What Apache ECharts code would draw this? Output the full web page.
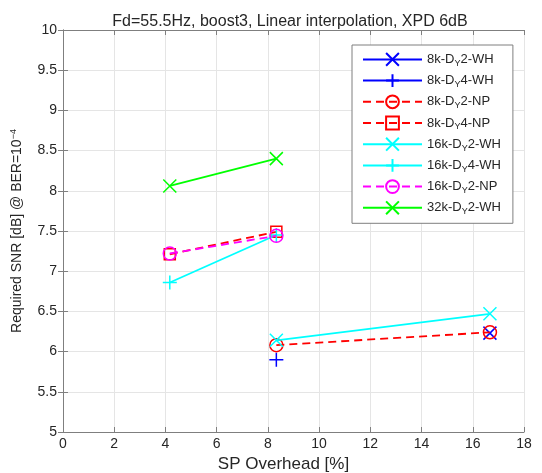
<!DOCTYPE html>
<html>
<head>
<meta charset="utf-8">
<script src="https://cdn.jsdelivr.net/npm/echarts@6/dist/echarts.min.js"></script>
<style>html,body{margin:0;padding:0;background:#fff;}#c{width:542px;height:473px;}</style>
</head>
<body>
<div id="c"></div>
<script>
// ---- data ----
const seriesNames = ['8k-D{sub|Y}2-WH','8k-D{sub|Y}4-WH','8k-D{sub|Y}2-NP','8k-D{sub|Y}4-NP','16k-D{sub|Y}2-WH','16k-D{sub|Y}4-WH','16k-D{sub|Y}2-NP','32k-D{sub|Y}2-WH'];
const x_8kDY2WH = [16.67];        const y_8kDY2WH = [6.23];
const x_8kDY4WH = [8.33];         const y_8kDY4WH = [5.90];
const x_8kDY2NP = [8.33, 16.67];  const y_8kDY2NP = [6.08, 6.24];
const x_8kDY4NP = [4.17, 8.33];   const y_8kDY4NP = [7.21, 7.49];
const x_16kDY2WH = [8.33, 16.67]; const y_16kDY2WH = [6.14, 6.47];
const x_16kDY4WH = [4.17, 8.33];  const y_16kDY4WH = [6.86, 7.45];
const x_16kDY2NP = [4.17, 8.33];  const y_16kDY2NP = [7.22, 7.44];
const x_32kDY2WH = [4.17, 8.33];  const y_32kDY2WH = [8.06, 8.40];
const xTicks = [0,2,4,6,8,10,12,14,16,18];
const yTicks = [5,5.5,6,6.5,7,7.5,8,8.5,9,9.5,10];

// ---- styles ----
const XS = 'path://M0,0L10,10M10,0L0,10';
const PLUS = 'path://M5,0L5,10M0,5L10,5';
const pairs = (xs, ys) => xs.map((x, i) => [x, ys[i]]);
const specs = [
  {x:x_8kDY2WH, y:y_8kDY2WH, c:'#0000ff', sym:XS, dash:false, size:13},
  {x:x_8kDY4WH, y:y_8kDY4WH, c:'#0000ff', sym:PLUS, dash:false, size:14},
  {x:x_8kDY2NP, y:y_8kDY2NP, c:'#ff0000', sym:'circle', dash:true, size:13},
  {x:x_8kDY4NP, y:y_8kDY4NP, c:'#ff0000', sym:'rect', dash:true, size:11},
  {x:x_16kDY2WH, y:y_16kDY2WH, c:'#00ffff', sym:XS, dash:false, size:13},
  {x:x_16kDY4WH, y:y_16kDY4WH, c:'#00ffff', sym:PLUS, dash:false, size:14},
  {x:x_16kDY2NP, y:y_16kDY2NP, c:'#ff00ff', sym:'circle', dash:true, size:13},
  {x:x_32kDY2WH, y:y_32kDY2WH, c:'#00ff00', sym:XS, dash:false, size:13}
];
const series = specs.map((s, i) => ({
  name: seriesNames[i],
  type: 'line',
  data: pairs(s.x, s.y),
  symbol: s.sym,
  symbolSize: s.size,
  showAllSymbol: true,
  color: s.c,
  lineStyle: {color: s.c, width: 1.8, type: s.dash ? [8, 5] : 'solid'},
  itemStyle: {color: 'rgba(0,0,0,0)', borderColor: s.c, borderWidth: 1.5},
  emphasis: {disabled: true},
  animation: false,
  z: 2 + i
}));

const FONT = 'Liberation Sans, Arial, sans-serif';
const axisCol = '#7f7f7f';
const txtCol = '#262626';
const chart = echarts.init(document.getElementById('c'));
chart.setOption({
  backgroundColor: '#fff',
  animation: false,
  title: {
    text: 'Fd=55.5Hz, boost3, Linear interpolation, XPD 6dB',
    left: 285, textAlign: 'center', top: 9,
    textStyle: {fontFamily: FONT, fontSize: 16, fontWeight: 'normal', color: txtCol}
  },
  grid: {left: 63, right: 18, top: 30, bottom: 41, containLabel: false, outerBoundsMode: 'none'},
  legend: {
    orient: 'vertical',
    left: 352, top: 45,
    padding: [7, 12, 7, 10],
    itemWidth: 59, itemHeight: 16, itemGap: 5.3,
    backgroundColor: '#fff',
    borderColor: '#7f7f7f', borderWidth: 1,
    selectedMode: false,
    data: seriesNames,
    textStyle: {
      fontFamily: FONT, fontSize: 13, color: txtCol,
      rich: {sub: {fontFamily: FONT, fontSize: 9, color: txtCol, verticalAlign: 'bottom', padding: [8, 0, 0, 0]}}
    }
  },
  xAxis: [{
    type: 'value', min: 0, max: 18, interval: 2,
    name: 'SP Overhead [%]', nameLocation: 'middle', nameGap: 24,
    nameTextStyle: {fontFamily: FONT, fontSize: 17, color: txtCol, padding: [0, 20, 0, 0]},
    axisLine: {lineStyle: {color: axisCol, width: 1}},
    axisTick: {inside: true, length: 5, lineStyle: {color: axisCol}},
    axisLabel: {fontFamily: FONT, fontSize: 14, color: txtCol, margin: 5,
      formatter: v => xTicks.includes(v) ? String(v) : ''},
    splitLine: {show: true, lineStyle: {color: '#e5e5e5', width: 1}}
  }, {
    type: 'value', min: 0, max: 18, interval: 2, position: 'top',
    axisLine: {show: true, lineStyle: {color: axisCol, width: 1}},
    axisTick: {inside: true, length: 5, lineStyle: {color: axisCol}},
    axisLabel: {show: false}, splitLine: {show: false}
  }],
  yAxis: [{
    type: 'value', min: 5, max: 10, interval: 0.5,
    name: 'Required SNR [dB] @ BER=10{sup|−4}', nameLocation: 'middle', nameGap: 37,
    nameTextStyle: {fontFamily: FONT, fontSize: 14, color: txtCol,
      rich: {sup: {fontFamily: FONT, fontSize: 9, color: txtCol, verticalAlign: 'top', padding: [0, 0, 8, 0]}}},
    axisLine: {show: true, lineStyle: {color: axisCol, width: 1}},
    axisTick: {show: true, inside: true, length: 5, lineStyle: {color: axisCol}},
    axisLabel: {fontFamily: FONT, fontSize: 14, color: txtCol, margin: 6,
      formatter: v => yTicks.includes(v) ? String(v) : ''},
    splitLine: {show: true, lineStyle: {color: '#e5e5e5', width: 1}}
  }, {
    type: 'value', min: 5, max: 10, interval: 0.5, position: 'right',
    axisLine: {show: true, lineStyle: {color: axisCol, width: 1}},
    axisTick: {show: true, inside: true, length: 5, lineStyle: {color: axisCol}},
    axisLabel: {show: false}, splitLine: {show: false}
  }],
  series: series
});
</script>
</body>
</html>
